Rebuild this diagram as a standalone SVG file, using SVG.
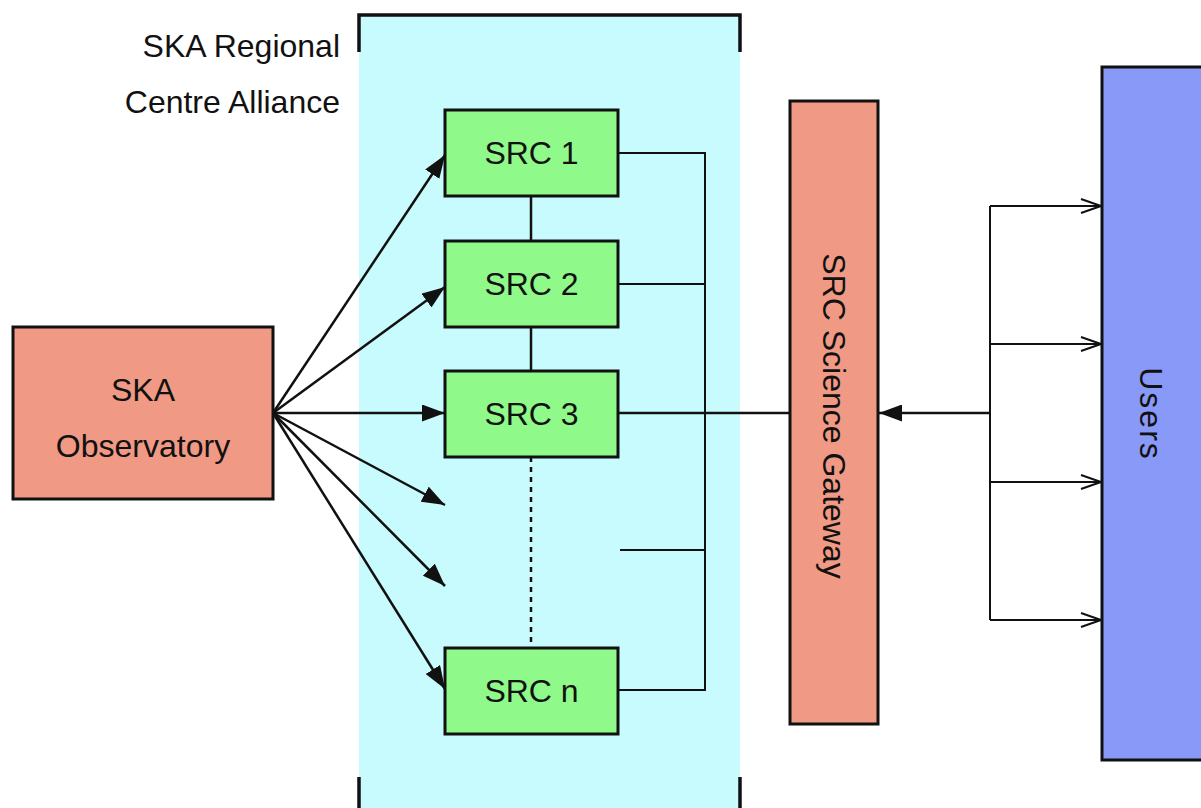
<svg xmlns="http://www.w3.org/2000/svg" width="1201" height="808" viewBox="0 0 1201 808">
<defs>
<style>
.lbl{font-family:"Liberation Sans","DejaVu Sans",sans-serif;font-size:32px;fill:#111;}
.box{stroke:#111;stroke-width:3;}
.ln{stroke:#111;stroke-width:2;fill:none;}
.thick{stroke:#111;stroke-width:3.5;fill:none;}
.arr{stroke:#111;stroke-width:2.5;fill:none;}
</style>
<marker id="fa" viewBox="0 0 23 17" refX="23" refY="8.5" markerWidth="23" markerHeight="17" markerUnits="userSpaceOnUse" orient="auto">
<path d="M0,0 L23,8.5 L0,17 Z" fill="#111"/>
</marker>
<marker id="oa" viewBox="0 0 22 16" refX="21" refY="8" markerWidth="22" markerHeight="16" markerUnits="userSpaceOnUse" orient="auto">
<path d="M1,1 L21,8 L1,15" fill="none" stroke="#111" stroke-width="2"/>
</marker>
</defs>
<rect width="1201" height="808" fill="#fff"/>

<g id="alliance">
<rect x="359" y="15" width="381" height="793" fill="#c8fbfd"/>
<path d="M359,52 V15 H740 V52" class="thick"/>
<path d="M359,777 V808 M740,777 V808" class="thick"/>
<text class="lbl" x="340" y="57" text-anchor="end">SKA Regional</text>
<text class="lbl" x="340" y="113" text-anchor="end">Centre Alliance</text>
</g>

<g id="connectors">
<line class="ln" x1="531" y1="196" x2="531" y2="241" style="stroke-width:2.5"/>
<line class="ln" x1="531" y1="327" x2="531" y2="371" style="stroke-width:2.5"/>
<line class="ln" x1="531" y1="457" x2="531" y2="648" style="stroke-width:2.5;stroke-dasharray:5,5"/>
<path class="ln" d="M618,153 H705 V690 H618"/>
<path class="ln" d="M618,284 H705"/>
<path class="ln" d="M618,413 H790" style="stroke-width:2.5"/>
<path class="ln" d="M620,550 H705"/>
<line class="arr" x1="273" y1="413" x2="445" y2="155" marker-end="url(#fa)"/>
<line class="arr" x1="273" y1="413" x2="445" y2="287" marker-end="url(#fa)"/>
<line class="arr" x1="273" y1="413" x2="445" y2="413" marker-end="url(#fa)"/>
<line class="arr" x1="273" y1="413" x2="445" y2="505" marker-end="url(#fa)"/>
<line class="arr" x1="273" y1="413" x2="445" y2="586" marker-end="url(#fa)"/>
<line class="arr" x1="273" y1="413" x2="445" y2="689" marker-end="url(#fa)"/>
<path class="ln" d="M990,206 V620"/>
<line class="arr" x1="990" y1="413" x2="879" y2="413" marker-end="url(#fa)"/>
<line class="ln" x1="990" y1="206" x2="1101" y2="206" marker-end="url(#oa)"/>
<line class="ln" x1="990" y1="344" x2="1101" y2="344" marker-end="url(#oa)"/>
<line class="ln" x1="990" y1="482" x2="1101" y2="482" marker-end="url(#oa)"/>
<line class="ln" x1="990" y1="620" x2="1101" y2="620" marker-end="url(#oa)"/>
</g>

<g id="ska-observatory">
<rect class="box" x="13" y="327" width="260" height="172" fill="#f09984"/>
<text class="lbl" x="143" y="401" text-anchor="middle">SKA</text>
<text class="lbl" x="143" y="457" text-anchor="middle">Observatory</text>
</g>

<g id="src1">
<rect class="box" x="445" y="110" width="173" height="86" fill="#8ff98a"/>
<text class="lbl" x="531.5" y="164" text-anchor="middle">SRC 1</text>
</g>
<g id="src2">
<rect class="box" x="445" y="241" width="173" height="86" fill="#8ff98a"/>
<text class="lbl" x="531.5" y="295" text-anchor="middle">SRC 2</text>
</g>
<g id="src3">
<rect class="box" x="445" y="371" width="173" height="86" fill="#8ff98a"/>
<text class="lbl" x="531.5" y="425" text-anchor="middle">SRC 3</text>
</g>
<g id="srcn">
<rect class="box" x="445" y="648" width="173" height="86" fill="#8ff98a"/>
<text class="lbl" x="531.5" y="702" text-anchor="middle">SRC n</text>
</g>

<g id="gateway">
<rect class="box" x="790" y="101" width="88" height="623" fill="#f09984"/>
<text class="lbl" x="0" y="0" text-anchor="middle" transform="translate(823,416) rotate(90)">SRC Science Gateway</text>
</g>

<g id="users">
<rect class="box" x="1102" y="67" width="110" height="693" fill="#8899f8"/>
<text class="lbl" x="0" y="0" text-anchor="middle" letter-spacing="2" transform="translate(1140,414) rotate(90)">Users</text>
</g>
</svg>
